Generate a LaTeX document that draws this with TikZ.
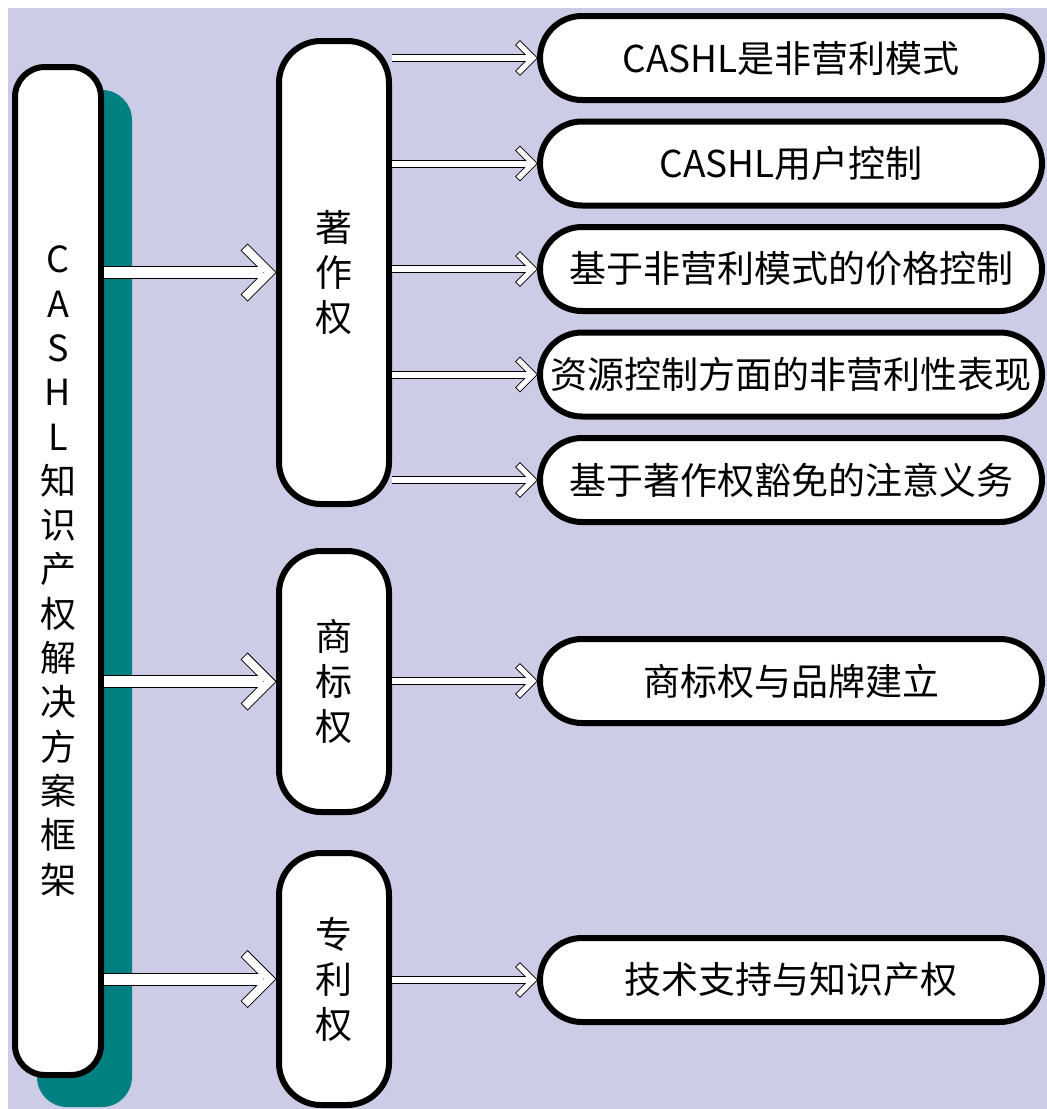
\documentclass[tikz,border=0pt]{standalone}
\usepackage{fontspec}
\setmainfont{Noto Sans CJK SC}
\usepackage{tikz}
\usetikzlibrary{calc}
\definecolor{bgcol}{RGB}{204,204,230}
\definecolor{shadowcol}{RGB}{0,128,128}
\tikzstyle{box}=[draw, line width=6pt, fill=white, inner sep=0pt, align=center]
\tikzstyle{mainbox}=[box, rounded corners=30pt, minimum width=86pt, minimum height=1008pt, font=\fontsize{36}{44.3}\selectfont]
\tikzstyle{midbox}=[box, rounded corners=42pt, minimum width=110pt, font=\fontsize{37}{45}\selectfont]
\tikzstyle{leafbox}=[box, rounded corners=42pt, minimum width=502pt, minimum height=84pt, font=\fontsize{37}{44}\selectfont]
\newcommand{\hollowarr}[5]{%
	\coordinate (tip) at ($(#2)+(-0.8*#5,0)$);
	\draw[line width={(#5+2)*1pt}, line cap=rect] ($(tip)+(-#4,-#4)$) -- (tip) -- ($(tip)+(-#4,#4)$);
	\draw[line width=1pt, double=white, double distance={#3*1pt}] (#1) -- ($(tip)+(-0.8*#5,0)$);
	\draw[white, line width={#5*1pt}, line cap=rect] ($(tip)+(-#4,-#4)$) -- (tip) -- ($(tip)+(-#4,#4)$);
}

\begin{document}
\begin{tikzpicture}[x=1pt,y=-1pt]
\useasboundingbox (0,0) rectangle (1047,1109);
\fill[bgcol] (8,8) rectangle (1047,1109);
\fill[shadowcol, rounded corners=30pt] (37,90) rectangle (132,1107);
\node[mainbox] (cashl) at (58,571) {C\\A\\S\\H\\L\\知\\识\\产\\权\\解\\决\\方\\案\\框\\架};
\node[midbox, minimum height=463pt] (zz) at (334,272.5) {著\\作\\权};
\node[midbox, minimum height=261pt] (sb) at (334,681.5) {商\\标\\权};
\node[midbox, minimum height=252pt] (zl) at (334,979) {专\\利\\权};
\foreach \t [count=\i] in {CASHL是非营利模式,CASHL用户控制,基于非营利模式的价格控制,资源控制方面的非营利性表现,基于著作权豁免的注意义务} {
	\node[leafbox] (z\i) at (791,{58+105.5*(\i-1)}) {\t};
	\hollowarr{zz.east |- z\i}{z\i.west}{6}{13}{5}
}
\node[leafbox] (s1) at (791,681) {商标权与品牌建立};
\node[leafbox] (l1) at (791,980) {技术支持与知识产权};
\hollowarr{sb.east |- s1}{s1.west}{6}{13}{5}
\hollowarr{zl.east |- l1}{l1.west}{6}{13}{5}
\foreach \m in {zz,sb,zl} {
	\hollowarr{cashl.east |- \m}{\m.west}{11}{22}{8}
}
\end{tikzpicture}
\end{document}
